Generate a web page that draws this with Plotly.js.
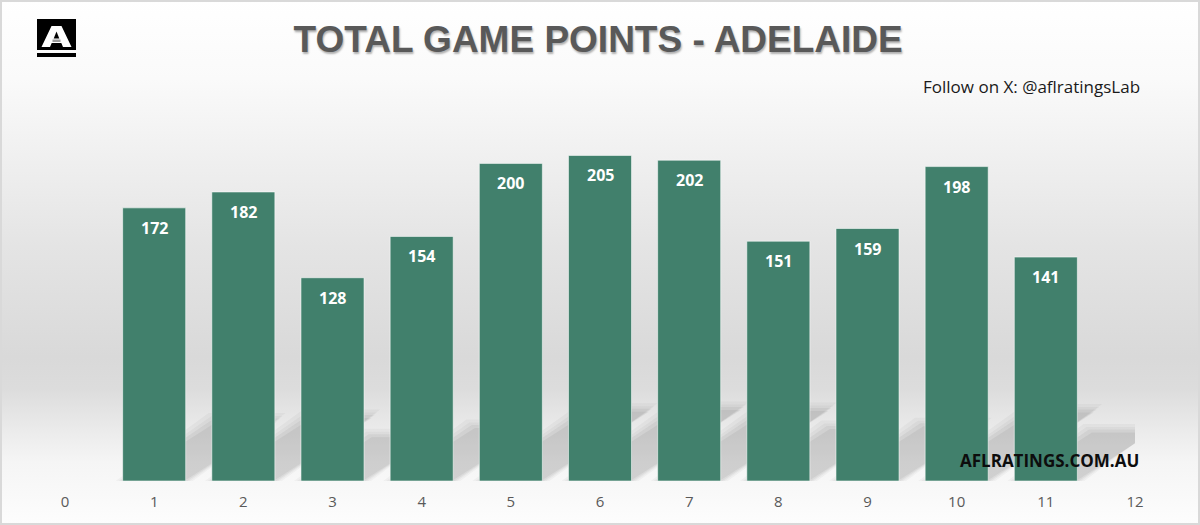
<!DOCTYPE html>
<html>
<head>
<meta charset="utf-8">
<script src="https://cdn.plot.ly/plotly-3.0.1.min.js"></script>
<style>
  html, body { margin: 0; padding: 0; background: #ffffff; }
  #wrap {
    position: relative; width: 1200px; height: 525px;
    background: linear-gradient(to bottom, #ffffff 0%, #fafafa 15%, #e4e4e4 47%, #d9d9d9 68%, #dcdcdc 74%, #ebebeb 82%, #f5f5f5 88%, #fdfdfd 100%);
  }
  #border { position: absolute; left: 0; top: 0; width: 1200px; height: 525px; box-sizing: border-box; border: 2px solid #d9d9d9; pointer-events: none; }
  #chart { width: 1200px; height: 525px; }
</style>
</head>
<body>
<div id="wrap"><div id="chart"></div><div id="border"></div></div>
<script>
// ---- data ----
const rounds = [1, 2, 3, 4, 5, 6, 7, 8, 9, 10, 11];
const points = [172, 182, 128, 154, 200, 205, 202, 151, 159, 198, 141];
const xTickValues = [0, 1, 2, 3, 4, 5, 6, 7, 8, 9, 10, 11, 12];
const chartTitle = 'TOTAL GAME POINTS - ADELAIDE';
const followText = 'Follow on X: @aflratingsLab';
const siteText = 'AFLRATINGS.COM.AU';

const barWidth = 0.707;
const barColor = '#41806C';

// soft perspective shadows derived from the bar values
const pxX = 1070 / 12, pxY = 397 / 250;
const shapes = [];
rounds.forEach((x, i) => {
  const v = points[i];
  const half = barWidth / 2;
  const dx = 0.00606 * v;
  const dy = 0.223 * v;
  const blur = [
    {p: 7, op: 0.035},
    {p: 4, op: 0.045},
    {p: 1.5, op: 0.055},
    {p: -1.5, op: 0.06}
  ];
  blur.forEach(L => {
    const px = L.p / pxX, py = L.p / pxY;
    const x0 = x - half - px, x1 = x + half + px;
    const top = dy + py;
    const path = `M ${x0} 0 L ${x1} 0 L ${x1 + dx} ${top} L ${x0 + dx} ${top} Z`;
    shapes.push({type: 'path', path: path, xref: 'x', yref: 'y', layer: 'below',
      fillcolor: `rgba(40,40,40,${L.op})`, line: {width: 0}});
  });
});

// logo (SVG) as image
const logoSvg = `<svg xmlns="http://www.w3.org/2000/svg" width="39" height="38" viewBox="0 0 39 38">
<rect x="0" y="0" width="39" height="31" fill="#000"/>
<polygon points="14.5,7 24.5,7 34.5,28 26,28 24.3,24 14.7,24 13,28 4.5,28" fill="#fff"/>
<polygon points="19.5,12.5 22.3,19.5 16.7,19.5" fill="#000"/>
<rect x="15.5" y="20.5" width="8" height="2.5" fill="#9a9a9a"/>
<rect x="0" y="34" width="39" height="4" fill="#000"/>
</svg>`;
const logoUri = 'data:image/svg+xml;base64,' + btoa(logoSvg);

const annotations = rounds.map((x, i) => ({
  x: x, y: points[i], xref: 'x', yref: 'y', text: String(points[i]),
  showarrow: false, yanchor: 'middle', xanchor: 'center', yshift: -20,
  font: {family: 'Open Sans, sans-serif', size: 16, color: '#ffffff', weight: 'bold'}
}));
annotations.push({
  xref: 'paper', yref: 'paper', x: (1142 - 65) / 1070, y: (481 - 86) / 397,
  xanchor: 'right', yanchor: 'middle', showarrow: false, text: followText,
  font: {family: 'Open Sans, sans-serif', size: 17, color: '#1a1a1a'}
});
annotations.push({
  xref: 'paper', yref: 'paper', x: (1141 - 65) / 1070, y: (481 - 460) / 397,
  xanchor: 'right', yanchor: 'middle', showarrow: false, text: siteText,
  font: {family: 'Open Sans, sans-serif', size: 17, color: '#0d0d0d', weight: 'bold'}
});

const trace = {
  type: 'bar', x: rounds, y: points, width: barWidth,
  marker: {color: barColor, line: {color: 'rgba(255,255,255,0.55)', width: 1}},
  hoverinfo: 'skip'
};

const layout = {
  width: 1200, height: 525,
  margin: {l: 65, r: 65, t: 84, b: 44},
  paper_bgcolor: 'rgba(0,0,0,0)', plot_bgcolor: 'rgba(0,0,0,0)',
  showlegend: false,
  title: {
    text: chartTitle, x: 0.4985, xanchor: 'center', y: 1 - 39 / 525, yanchor: 'middle',
    font: {family: 'Liberation Sans, Arial, sans-serif', size: 37, color: '#595959', weight: 'bold',
      shadow: '1px 2px 2px rgba(0,0,0,0.3)'}
  },
  xaxis: {
    range: [0, 12], tickmode: 'array', tickvals: xTickValues, ticktext: xTickValues.map(String),
    showgrid: false, zeroline: false, showline: false, ticks: '', ticklabelstandoff: 10,
    tickfont: {family: 'Open Sans, sans-serif', size: 15, color: '#595959'}, fixedrange: true
  },
  yaxis: {range: [0, 250], visible: false, fixedrange: true},
  shapes: shapes,
  annotations: annotations,
  images: [{
    source: logoUri, xref: 'paper', yref: 'paper',
    x: (37 - 65) / 1070, y: (481 - 19) / 397, sizex: 39 / 1070, sizey: 38 / 397,
    xanchor: 'left', yanchor: 'top', sizing: 'stretch', layer: 'above'
  }]
};

Plotly.newPlot('chart', [trace], layout, {displayModeBar: false, staticPlot: true});
</script>
</body>
</html>
